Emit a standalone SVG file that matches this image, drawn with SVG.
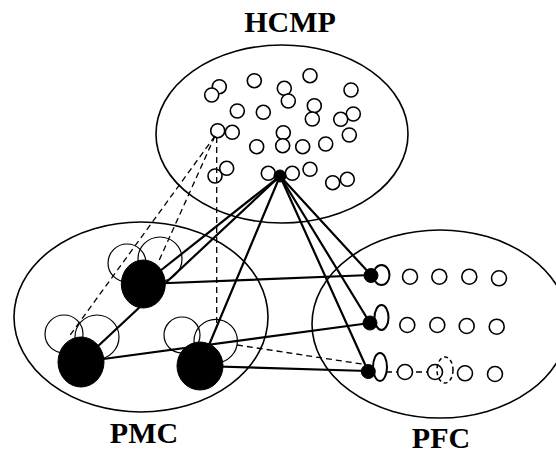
<svg xmlns="http://www.w3.org/2000/svg" width="556" height="456" viewBox="0 0 556 456">
<style>
.region{fill:none;stroke:#000;stroke-width:1.6}
.cell{fill:#fff;stroke:#000;stroke-width:1.6}
.ghost{fill:none;stroke:#000;stroke-width:1.2}
.black{fill:#000;stroke:#000;stroke-width:1}
.loop{fill:none;stroke:#000;stroke-width:2}
.conn{fill:none;stroke:#000;stroke-width:2.2;stroke-linecap:round}
.dash{fill:none;stroke:#000;stroke-width:1.3;stroke-dasharray:6 4}
.label{font-family:"Liberation Serif","Times New Roman",serif;font-weight:bold;font-size:30px;text-anchor:middle;fill:#000}
</style>
<rect width="556" height="456" fill="#fff"/>

<g id="HCMP">
<ellipse class="region" cx="282" cy="134" rx="126" ry="89"/>
<text class="label" x="290" y="32">HCMP</text>
<g>
<circle class="cell" cx="219.3" cy="86.7" r="7"/>
<circle class="cell" cx="211.7" cy="95" r="7"/>
<circle class="cell" cx="254.3" cy="80.7" r="7"/>
<circle class="cell" cx="284.3" cy="88.3" r="7"/>
<circle class="cell" cx="288.3" cy="101" r="7"/>
<circle class="cell" cx="310" cy="75.7" r="7"/>
<circle class="cell" cx="351" cy="90" r="7"/>
<circle class="cell" cx="237.3" cy="111" r="7"/>
<circle class="cell" cx="263.3" cy="112.3" r="7"/>
<circle class="cell" cx="314.3" cy="105.7" r="7"/>
<circle class="cell" cx="312.3" cy="119" r="7"/>
<circle class="cell" cx="353.3" cy="114" r="7"/>
<circle class="cell" cx="340.7" cy="119.3" r="7"/>
<circle class="cell" cx="349.3" cy="135" r="7"/>
<circle class="cell" cx="232.3" cy="132.3" r="7"/>
<circle class="cell" cx="217.7" cy="130.7" r="7"/>
<circle class="cell" cx="283.3" cy="132.7" r="7"/>
<circle class="cell" cx="282.7" cy="145.7" r="7"/>
<circle class="cell" cx="256.7" cy="146.7" r="7"/>
<circle class="cell" cx="302.7" cy="146.7" r="7"/>
<circle class="cell" cx="325.7" cy="144" r="7"/>
<circle class="cell" cx="226.7" cy="168.3" r="7"/>
<circle class="cell" cx="215" cy="176" r="7"/>
<circle class="cell" cx="268.3" cy="173.3" r="7"/>
<circle class="cell" cx="292.3" cy="173.3" r="7"/>
<circle class="cell" cx="310" cy="169.3" r="7"/>
<circle class="cell" cx="332.7" cy="182.7" r="7"/>
<circle class="cell" cx="347.3" cy="179.3" r="7"/>
</g>
</g>

<g id="PMC">
<ellipse class="region" cx="141" cy="317" rx="127" ry="95"/>
<text class="label" x="144" y="443">PMC</text>
<circle class="ghost" cx="127" cy="263" r="19"/>
<circle class="ghost" cx="160" cy="259" r="22"/>
<circle class="ghost" cx="64" cy="334" r="19"/>
<circle class="ghost" cx="97" cy="337" r="22"/>
<circle class="ghost" cx="182" cy="335" r="18"/>
<circle class="ghost" cx="215.7" cy="341" r="21.7"/>
</g>

<g id="PFC">
<ellipse class="region" cx="440" cy="324" rx="128" ry="94"/>
<text class="label" x="441" y="448">PFC</text>
<g>
<circle class="cell" cx="410" cy="276.7" r="7.5"/>
<circle class="cell" cx="439.3" cy="276.7" r="7.5"/>
<circle class="cell" cx="469.3" cy="276.7" r="7.5"/>
<circle class="cell" cx="499" cy="278.3" r="7.5"/>
<circle class="cell" cx="407.3" cy="325" r="7.5"/>
<circle class="cell" cx="437.3" cy="325" r="7.5"/>
<circle class="cell" cx="466.7" cy="326" r="7.5"/>
<circle class="cell" cx="496.7" cy="326.7" r="7.5"/>
</g>
</g>

<g id="connectors">
<line class="dash" x1="215" y1="136" x2="68" y2="338"/>
<line class="dash" x1="215" y1="136" x2="158" y2="263"/>
<line class="dash" x1="216.7" y1="137" x2="216.7" y2="326"/>
<line class="dash" x1="237" y1="345" x2="362" y2="364"/>
<line class="dash" x1="386" y1="372" x2="430" y2="372"/>
<line class="conn" x1="280" y1="176" x2="160" y2="271"/>
<line class="conn" x1="280" y1="176" x2="81" y2="362"/>
<line class="conn" x1="280" y1="176" x2="209" y2="345"/>
<line class="conn" x1="280" y1="176" x2="371" y2="275"/>
<line class="conn" x1="280" y1="176" x2="370" y2="323"/>
<line class="conn" x1="280" y1="176" x2="368" y2="371"/>
<line class="conn" x1="143" y1="284" x2="371" y2="275"/>
<line class="conn" x1="81" y1="362" x2="370" y2="323"/>
<line class="conn" x1="200" y1="366" x2="368" y2="371"/>
</g>

<g id="HCMP-hub">
<circle class="black" cx="280" cy="176" r="6"/>
</g>

<g id="PMC-node-top">
<ellipse class="black" cx="143.3" cy="284" rx="22" ry="24"/>
</g>
<g id="PMC-node-left">
<ellipse class="black" cx="81" cy="362" rx="23" ry="25"/>
</g>
<g id="PMC-node-right">
<ellipse class="black" cx="200" cy="366" rx="23" ry="24"/>
</g>

<g id="PFC-row3">
<circle class="cell" cx="405" cy="372" r="7.5"/>
<circle class="cell" cx="435" cy="372" r="7.5"/>
<ellipse class="dash" cx="445" cy="370" rx="8" ry="13" style="stroke-dasharray:4 3;stroke-width:1.5"/>
<circle class="cell" cx="465" cy="373.3" r="7.5"/>
<circle class="cell" cx="495" cy="374" r="7.5"/>
</g>

<g id="PFC-node-1">
<ellipse class="loop" cx="381.5" cy="275" rx="8" ry="10"/>
<circle class="black" cx="371" cy="275.5" r="7"/>
</g>
<g id="PFC-node-2">
<ellipse class="loop" cx="381.5" cy="317.5" rx="7" ry="12.5"/>
<circle class="black" cx="370" cy="323" r="7"/>
</g>
<g id="PFC-node-3">
<ellipse class="loop" cx="380" cy="367" rx="7" ry="14"/>
<circle class="black" cx="368.3" cy="371.5" r="7"/>
</g>
</svg>
